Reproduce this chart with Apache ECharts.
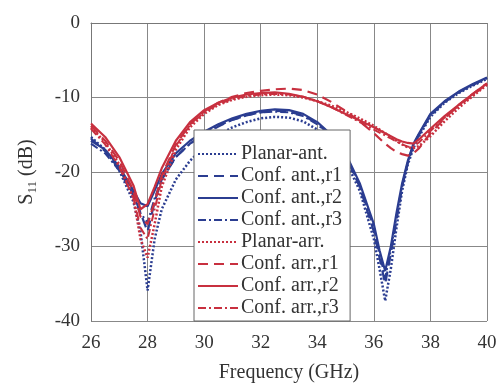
<!DOCTYPE html>
<html>
<head>
<meta charset="utf-8">
<script src="https://cdn.jsdelivr.net/npm/echarts@6/dist/echarts.min.js"></script>
<style>
  html, body { margin: 0; padding: 0; background: #fff; }
  #chart { width: 497px; height: 383px; }
</style>
</head>
<body>
<div id="chart"></div>
<script>
// frequency points (GHz)
var freq = [26, 26.5, 27, 27.5, 27.75, 28, 28.25, 28.5, 29, 29.5, 30, 30.5, 31, 31.5, 32, 32.5, 33, 33.5, 34, 34.5, 35, 35.5, 36, 36.2, 36.4, 36.6, 36.8, 37, 37.2, 37.4, 37.6, 38, 38.5, 39, 39.5, 40];

// S11 (dB)
var planarAnt = [-15.3, -17.0, -19.8, -24.0, -28.0, -35.9, -29.0, -25.0, -21.0, -18.5, -16.6, -15.0, -14.0, -13.3, -12.8, -12.6, -12.7, -13.2, -14.3, -16.0, -18.5, -22.5, -29.0, -33.0, -37.3, -33.0, -27.5, -22.5, -19.0, -16.8, -15.2, -12.6, -10.7, -9.4, -8.4, -7.5];
var confAntR1 = [-15.5, -17.2, -19.6, -23.0, -25.5, -28.0, -24.0, -21.0, -18.0, -16.2, -15.0, -13.9, -13.0, -12.4, -12.0, -11.8, -11.9, -12.4, -13.5, -15.2, -17.8, -22.0, -28.0, -31.5, -35.0, -31.0, -26.5, -22.0, -18.8, -16.4, -15.0, -12.4, -10.6, -9.3, -8.3, -7.4];
var confAntR2 = [-15.8, -17.0, -19.3, -22.5, -24.2, -24.6, -22.5, -20.3, -17.5, -15.8, -14.6, -13.6, -12.8, -12.2, -11.8, -11.6, -11.7, -12.2, -13.3, -15.0, -17.5, -21.5, -27.0, -30.5, -33.3, -30.0, -25.5, -21.5, -18.5, -16.2, -14.8, -12.2, -10.5, -9.2, -8.2, -7.3];
var confAntR3 = [-16.2, -17.5, -19.8, -23.2, -25.5, -26.8, -23.5, -21.0, -18.0, -16.2, -14.9, -13.8, -13.0, -12.4, -12.0, -11.9, -12.0, -12.5, -13.6, -15.3, -17.8, -21.8, -27.5, -31.0, -34.2, -30.5, -26.0, -21.8, -18.7, -16.3, -14.9, -12.3, -10.6, -9.3, -8.3, -7.4];
var planarArr = [-14.0, -16.0, -19.0, -23.5, -29.0, -31.5, -27.0, -22.0, -17.0, -14.0, -12.2, -11.0, -10.3, -9.9, -9.7, -9.6, -9.7, -10.0, -10.5, -11.1, -11.9, -12.8, -13.8, -14.3, -14.8, -15.3, -15.8, -16.3, -16.7, -16.8, -16.5, -15.2, -13.2, -11.4, -9.8, -8.3];
var confArrR1 = [-13.8, -15.8, -18.5, -22.5, -26.0, -27.0, -24.0, -20.5, -16.3, -13.6, -11.9, -10.7, -9.9, -9.4, -9.1, -8.9, -8.8, -9.0, -9.6, -10.6, -11.8, -13.2, -14.8, -15.5, -16.2, -16.8, -17.3, -17.6, -17.8, -17.5, -16.8, -14.8, -12.8, -11.0, -9.5, -8.1];
var confArrR2 = [-13.5, -15.3, -18.0, -21.8, -25.0, -24.3, -22.0, -19.5, -15.8, -13.3, -11.7, -10.7, -10.0, -9.6, -9.4, -9.3, -9.5, -9.9, -10.5, -11.3, -12.2, -13.1, -14.0, -14.4, -14.8, -15.2, -15.6, -15.9, -16.1, -16.2, -15.6, -14.2, -12.5, -11.0, -9.5, -8.1];
var confArrR3 = [-14.2, -16.3, -19.3, -23.5, -27.5, -29.0, -25.0, -21.0, -16.5, -13.7, -12.0, -10.9, -10.2, -9.8, -9.6, -9.5, -9.6, -9.9, -10.5, -11.3, -12.3, -13.3, -14.3, -14.7, -15.1, -15.5, -15.9, -16.3, -16.6, -16.6, -16.0, -14.5, -12.7, -11.1, -9.7, -8.2];

var blue = '#2b3d91'
var red = '#c8303f'
var serif = '"Liberation Serif", "Times New Roman", serif'

function pairs (vals) {
  return freq.map(function (f, i) { return [f, vals[i]] })
}

function line (name, vals, color, type, width) {
  return {
    name: name,
    type: 'line',
    data: pairs(vals),
    symbol: 'none',
    showSymbol: false,
    lineStyle: { color: color, width: width, type: type },
    itemStyle: { color: color },
    z: 2
  }
}

var chart = echarts.init(document.getElementById('chart'))
var option = {
  animation: false,
  backgroundColor: '#fff',
  grid: { left: 91, right: 10, top: 23, bottom: 62, outerBoundsMode: 'none' },
  legend: {
    orient: 'vertical',
    left: 194,
    top: 130,
    padding: [14, 8, 3, 3],
    itemWidth: 40,
    itemHeight: 14,
    itemGap: 2,
    backgroundColor: '#fff',
    borderColor: '#666',
    borderWidth: 1,
    borderRadius: 0,
    itemStyle: { opacity: 0 },
    textStyle: { fontFamily: serif, fontSize: 20, color: '#333', padding: [0, 0, 0, -2] },
    data: ['Planar-ant.', 'Conf. ant.,r1', 'Conf. ant.,r2', 'Conf. ant.,r3', 'Planar-arr.', 'Conf. arr.,r1', 'Conf. arr.,r2', 'Conf. arr.,r3']
  },
  xAxis: {
    type: 'value',
    min: 26,
    max: 40,
    interval: 2,
    name: 'Frequency (GHz)',
    nameLocation: 'middle',
    nameGap: 42,
    nameTextStyle: { fontFamily: serif, fontSize: 20, color: '#333' },
    axisLine: { lineStyle: { color: '#777', width: 1 } },
    axisTick: { show: false },
    axisLabel: { fontFamily: serif, fontSize: 19, color: '#333', margin: 13 },
    splitLine: { show: true, lineStyle: { color: '#888', width: 1 } }
  },
  yAxis: {
    type: 'value',
    min: -40,
    max: 0,
    interval: 10,
    name: 'S{sub|11} (dB)',
    nameLocation: 'middle',
    nameGap: 52,
    nameTextStyle: {
      fontFamily: serif,
      fontSize: 20,
      color: '#333',
      rich: {
        sub: { fontFamily: serif, fontSize: 13, color: '#333', padding: [12, 0, 0, 0] }
      }
    },
    axisLine: { show: true, lineStyle: { color: '#777', width: 1 } },
    axisTick: { show: false },
    axisLabel: { fontFamily: serif, fontSize: 19, color: '#333', margin: 11 },
    splitLine: { show: true, lineStyle: { color: '#888', width: 1 } }
  },
  series: [
    line('Planar-ant.', planarAnt, blue, [2, 2], 2.5),
    line('Conf. ant.,r1', confAntR1, blue, [10, 6], 2.2),
    line('Conf. ant.,r2', confAntR2, blue, 'solid', 2.2),
    line('Conf. ant.,r3', confAntR3, blue, [8, 3, 2, 3], 2),
    line('Planar-arr.', planarArr, red, [2, 2], 2.5),
    line('Conf. arr.,r1', confArrR1, red, [10, 6], 2.2),
    line('Conf. arr.,r2', confArrR2, red, 'solid', 2.2),
    line('Conf. arr.,r3', confArrR3, red, [8, 3, 2, 3], 2)
  ]
}
chart.setOption(option)
</script>
</body>
</html>
